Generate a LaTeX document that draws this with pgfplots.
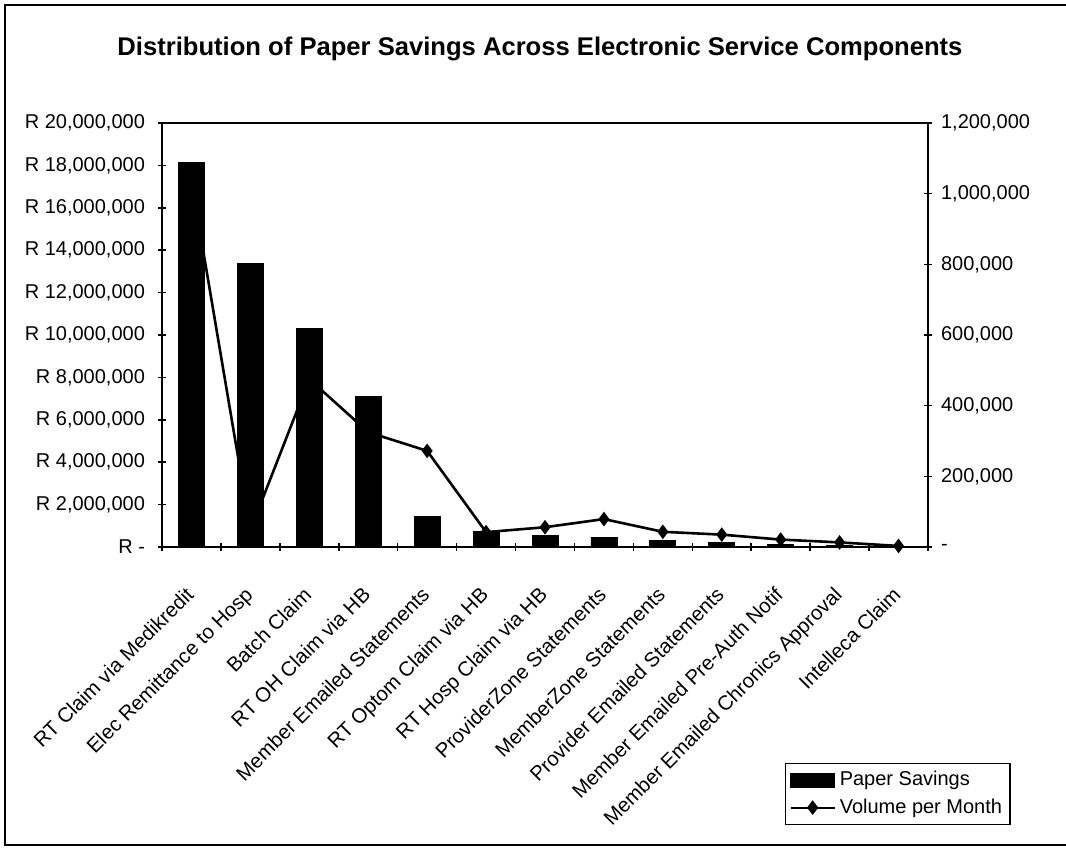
\documentclass[border=0pt]{standalone}
\usepackage{fontspec}
\setmainfont{Liberation Sans}
\usepackage{pgfplots}
\pgfplotsset{compat=1.18}

\begin{document}
\begin{tikzpicture}
\useasboundingbox (0,0) rectangle (533pt,423.5pt);

% chart frame (top, left, bottom)
\draw[line width=1pt] (533pt,421pt) -- (2.5pt,421pt) -- (2.5pt,1pt) -- (533pt,1pt);

% title
\node[font=\bfseries\fontsize{12.8}{15}\selectfont] at (270pt,399pt)
  {Distribution of Paper Savings Across Electronic Service Components};

\pgfplotsset{
  commonaxis/.style={
    at={(81pt,150pt)}, anchor=south west,
    width=383pt, height=212pt, scale only axis,
    xmin=-0.5, xmax=12.5,
    axis line style={line width=1pt},
    tick style={black, line width=0.8pt},
    tick align=center, major tick length=4pt,
    scaled y ticks=false,
    tick label style={font=\fontsize{10}{12}\selectfont},
  }
}

% volume per month on the secondary (right) axis, drawn first so the bars sit on top
\begin{axis}[commonaxis,
  ymin=0, ymax=1200000,
  ytick={0,200000,400000,600000,800000,1000000,1200000},
  yticklabels={{-},{200,000},{400,000},{600,000},{800,000},{1,000,000},{1,200,000}},
  ytick pos=right,
  xtick={-0.5,0.5,...,12.5}, xticklabels={}, xtick pos=left,
  yticklabel style={anchor=west, xshift=1pt},
]
\addplot[black, line width=1.3pt, mark=diamond*, mark size=2.6pt,
  mark options={solid, fill=black}]
  coordinates {
    (0,1035000) (1,48000) (2,475000) (3,325000) (4,272000) (5,42000) (6,56000)
    (7,79000) (8,43000) (9,35000) (10,21000) (11,13000) (12,3000)
  };
\end{axis}

% paper savings on the primary (left) axis
\begin{axis}[commonaxis,
  ymin=0, ymax=20000000,
  ytick={0,2000000,4000000,6000000,8000000,10000000,12000000,14000000,16000000,18000000,20000000},
  yticklabels={{R -},{R 2,000,000},{R 4,000,000},{R 6,000,000},{R 8,000,000},{R 10,000,000},{R 12,000,000},{R 14,000,000},{R 16,000,000},{R 18,000,000},{R 20,000,000}},
  ytick pos=left,
  yticklabel style={anchor=east, xshift=-3pt},
  xtick={0,...,12},
  xticklabels={{RT Claim via Medikredit},{Elec Remittance to Hosp},{Batch Claim},{RT OH Claim via HB},{Member Emailed Statements},{RT Optom Claim via HB},{RT Hosp Claim via HB},{ProviderZone Statements},{MemberZone Statements},{Provider Emailed Statements},{Member Emailed Pre-Auth Notif},{Member Emailed Chronics Approval},{Intelleca Claim}},
  xtick style={draw=none},
  xticklabel style={font=\fontsize{10.2}{12}\selectfont, xshift=-3.5pt, yshift=-17pt, rotate=45, anchor=north east, inner sep=0pt},
  legend style={at={(0.813,-0.656)}, anchor=south west, draw=black, line width=0.8pt,
    font=\fontsize{10}{12}\selectfont, inner xsep=2pt, inner ysep=2pt,
    row sep=1pt, cells={anchor=west}},
]
\addplot[ybar, bar width=13pt, bar shift=0pt, fill=black, draw=black,
  legend image code/.code={\fill[black] (0pt,-3.3pt) rectangle (22pt,3.3pt);}]
  coordinates {
    (0,18150000) (1,13380000) (2,10310000) (3,7090000) (4,1420000) (5,750000)
    (6,550000) (7,470000) (8,300000) (9,220000) (10,140000) (11,90000) (12,30000)
  };
\addlegendentry{Paper Savings}
\addlegendimage{black, line width=1.3pt,
  legend image code/.code={
    \draw[black, line width=1.1pt] (0pt,0pt) -- (22pt,0pt);
    \fill[black] (11pt,0pt) +(0,2.6pt) -- +(2pt,0) -- +(0,-2.6pt) -- +(-2pt,0) -- cycle;}}
\addlegendentry{Volume per Month}
\end{axis}
\end{tikzpicture}
\end{document}
